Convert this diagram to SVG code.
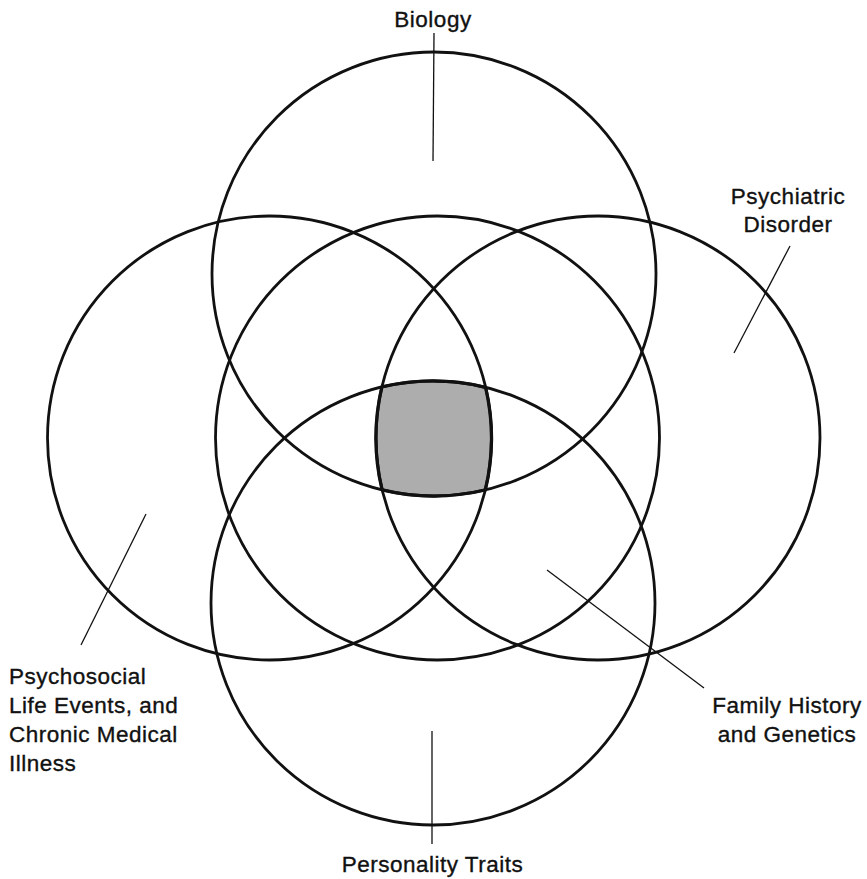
<svg xmlns="http://www.w3.org/2000/svg" width="867" height="879" viewBox="0 0 867 879">
  <style>
    .ring { fill: none; stroke: #111; stroke-width: 2.8; }
    .core { fill: #adadad; stroke: #111; stroke-width: 3.3; stroke-linejoin: round; }
    .leader { stroke: #111; stroke-width: 1.3; fill: none; }
    .label { font-family: "Liberation Sans", Arial, Helvetica, sans-serif; font-size: 22.5px; letter-spacing: 0.5px; fill: #111; stroke: #111; stroke-width: 0.35; }
    .mid { text-anchor: middle; }
  </style>

  <!-- shaded region shared by all five domains -->
  <path id="overlap" class="core"
        d="M 381.9 386.9 A 222 222 0 0 1 485.6 387.3 A 222 222 0 0 1 485.3 490 A 222 222 0 0 1 382.1 489.9 A 222 222 0 0 1 381.9 386.9 Z"/>

  <g id="biology">
    <circle class="ring" cx="434" cy="274" r="222"/>
    <text class="label mid" x="433" y="27">Biology</text>
  </g>

  <g id="psychosocial">
    <circle class="ring" cx="269.5" cy="438" r="222"/>
    <text class="label" x="9" y="684">Psychosocial</text>
    <text class="label" x="9" y="713">Life Events, and</text>
    <text class="label" x="9" y="742">Chronic Medical</text>
    <text class="label" x="9" y="771">Illness</text>
  </g>

  <g id="family-history">
    <circle class="ring" cx="437.5" cy="438" r="222"/>
    <text class="label mid" x="787" y="713">Family History</text>
    <text class="label mid" x="787" y="742">and Genetics</text>
  </g>

  <g id="psychiatric-disorder">
    <circle class="ring" cx="598" cy="438" r="222"/>
    <text class="label mid" x="788" y="204">Psychiatric</text>
    <text class="label mid" x="788" y="232">Disorder</text>
  </g>

  <g id="personality">
    <circle class="ring" cx="433" cy="603" r="222"/>
    <text class="label mid" x="432.5" y="872">Personality Traits</text>
  </g>

  <!-- leader lines from labels into their circles -->
  <g id="connectors">
    <line class="leader" x1="434" y1="33" x2="433" y2="161"/>
    <line class="leader" x1="790" y1="246" x2="734" y2="353"/>
    <line class="leader" x1="146" y1="514" x2="81" y2="645"/>
    <line class="leader" x1="547" y1="570" x2="704" y2="688"/>
    <line class="leader" x1="432" y1="731" x2="432" y2="844"/>
  </g>
</svg>
